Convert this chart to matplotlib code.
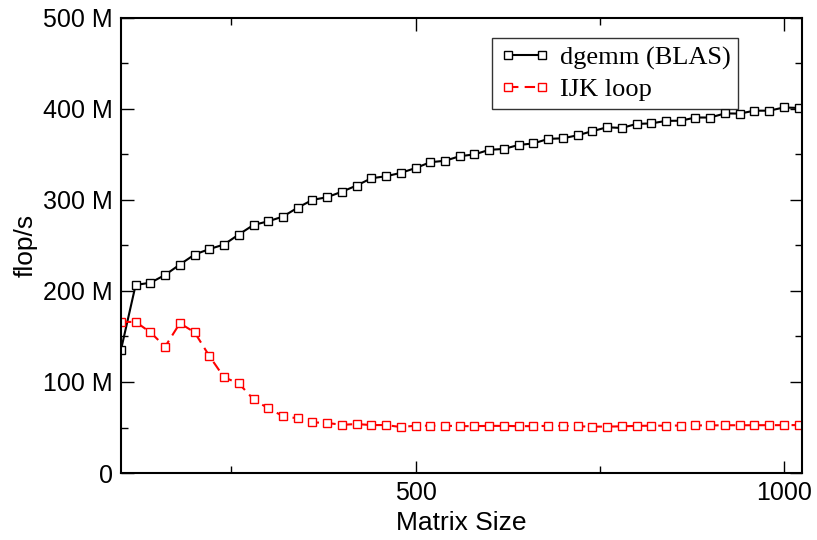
import matplotlib
matplotlib.use('Agg')
import matplotlib.pyplot as plt
from matplotlib.ticker import FuncFormatter, MultipleLocator
import numpy as np

# matrix sizes 100..1020 in steps of 20
sizes = list(range(100, 1021, 20))

# flop/s in millions
dgemm = [135, 206.6, 209, 217.6, 229, 240, 246, 251, 262, 272.5, 276.5, 281.7,
         291.5, 300, 303, 309, 315.8, 323.8, 326, 329.7, 335, 341.4, 343, 348,
         350, 355, 356, 360.4, 362, 367, 367.7, 371, 375.5, 379.8, 379, 383.5,
         384, 386.8, 387, 390.5, 390.5, 395, 394.8, 398, 398, 401.5, 401]
ijk = [166, 166, 154.6, 138.8, 164.5, 154.6, 128.6, 105.1, 98.5, 81, 71, 62.6,
       60, 55.7, 55, 53, 53.8, 52.7, 52.7, 50.5, 52, 52, 52, 51.5,
       51.5, 51.8, 51.8, 51.5, 51.5, 51.8, 51.8, 51.3, 51, 51, 51.3, 51.8,
       52, 52, 52.2, 52.3, 52.3, 52.5, 52.5, 52.5, 52.6, 52.6, 52.7]

fig = plt.figure(figsize=(8.17, 5.40), dpi=100)
ax = fig.add_axes([0.148, 0.124, 0.834, 0.843])

ax.plot(sizes, dgemm, color='black', lw=1.5, marker='s', ms=6,
        mfc='white', mec='black', mew=1.0, label='dgemm (BLAS)')
ax.plot(sizes, ijk, color='red', lw=1.5, ls=(0, (5, 3)), marker='s', ms=6,
        mfc='white', mec='red', mew=1.0, label='IJK loop')

ax.set_xlim(100, 1025)
ax.set_ylim(0, 500)

ax.xaxis.set_major_locator(MultipleLocator(500))
ax.xaxis.set_minor_locator(MultipleLocator(250))
ax.yaxis.set_major_locator(MultipleLocator(100))
ax.yaxis.set_minor_locator(MultipleLocator(50))
ax.yaxis.set_major_formatter(FuncFormatter(lambda v, p: '0' if v == 0 else f'{int(v)} M'))

ax.tick_params(which='both', direction='in', top=True, right=True, width=1.0,
               labelsize=18, pad=6)
ax.tick_params(which='major', length=9)
ax.tick_params(which='minor', length=5)
for sp in ax.spines.values():
    sp.set_linewidth(1.5)

for lab in ax.get_xticklabels() + ax.get_yticklabels():
    lab.set_fontfamily('Liberation Sans')

ax.set_xlabel('Matrix Size', fontsize=19, family='Liberation Sans', labelpad=4)
ax.set_ylabel('flop/s', fontsize=19, family='Liberation Sans', labelpad=4)

leg = ax.legend(loc='upper right', bbox_to_anchor=(0.906, 0.956), frameon=True,
                fancybox=False, edgecolor='black', numpoints=2,
                handlelength=1.9, handletextpad=0.35, borderpad=0.3,
                labelspacing=0.3, borderaxespad=0.0,
                prop={'family': 'Liberation Serif', 'size': 19})
leg.get_frame().set_linewidth(1.0)

fig.savefig('out.png', dpi=100)
